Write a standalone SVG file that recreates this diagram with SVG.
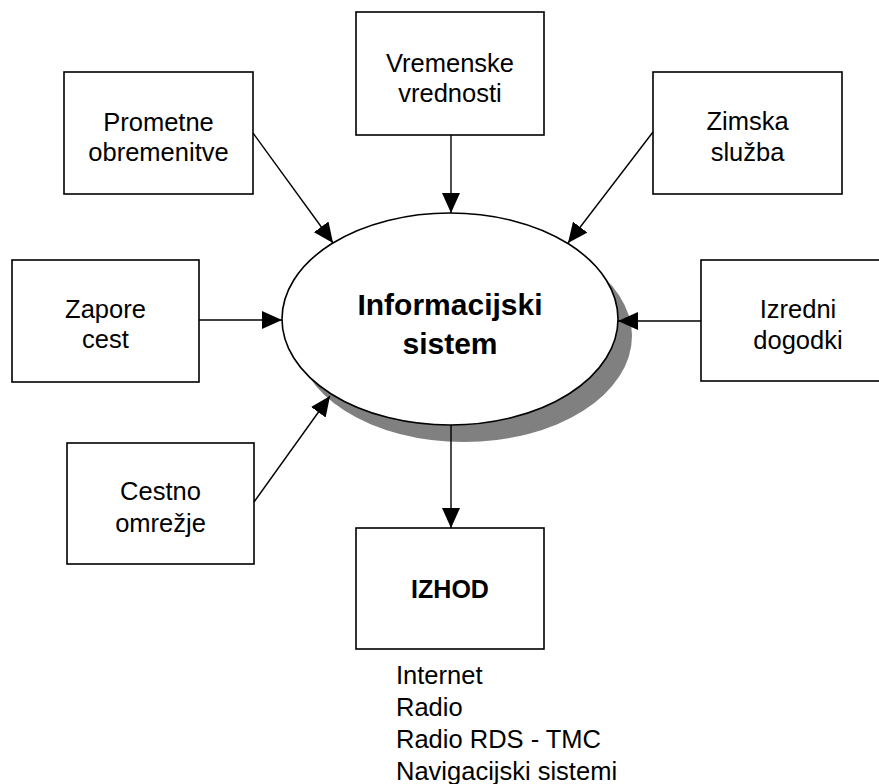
<svg xmlns="http://www.w3.org/2000/svg" width="879" height="784" viewBox="0 0 879 784">
  <style>
    .box { fill: #ffffff; stroke: #000000; stroke-width: 1.6; }
    .lbl { font-family: "Liberation Sans", Arial, sans-serif; font-size: 25.5px; fill: #000000; text-anchor: middle; }
    .bold { font-weight: bold; }
    .list { font-family: "Liberation Sans", Arial, sans-serif; font-size: 25.5px; fill: #000000; }
    .conn { stroke: #000000; stroke-width: 1.4; fill: none; marker-end: url(#arrow); }
  </style>
  <defs>
    <marker id="arrow" markerUnits="userSpaceOnUse" markerWidth="20" markerHeight="18" refX="20" refY="9" orient="auto">
      <path d="M0,0 L20,9 L0,18 Z" fill="#000000"/>
    </marker>
  </defs>

  <rect width="879" height="784" fill="#ffffff"/>

  <!-- central process -->
  <g id="informacijski-sistem">
    <ellipse cx="464" cy="336" rx="168" ry="106" fill="#808080"/>
    <ellipse cx="450" cy="319" rx="168" ry="106" fill="#ffffff" stroke="#000000" stroke-width="1.6"/>
    <text class="lbl bold" x="450" y="315" style="font-size:30px">Informacijski</text>
    <text class="lbl bold" x="450" y="354" style="font-size:30px">sistem</text>
  </g>

  <!-- input sources -->
  <g id="prometne-obremenitve">
    <rect class="box" x="64" y="72" width="189" height="122"/>
    <text class="lbl" x="158.5" y="131">Prometne</text>
    <text class="lbl" x="158.5" y="161">obremenitve</text>
  </g>

  <g id="vremenske-vrednosti">
    <rect class="box" x="356" y="12" width="188" height="123"/>
    <text class="lbl" x="450" y="72">Vremenske</text>
    <text class="lbl" x="450" y="102">vrednosti</text>
  </g>

  <g id="zimska-sluzba">
    <rect class="box" x="653" y="72" width="189" height="122"/>
    <text class="lbl" x="747.5" y="130">Zimska</text>
    <text class="lbl" x="747.5" y="161">služba</text>
  </g>

  <g id="zapore-cest">
    <rect class="box" x="12" y="260" width="187" height="122"/>
    <text class="lbl" x="105.5" y="318">Zapore</text>
    <text class="lbl" x="105.5" y="348">cest</text>
  </g>

  <g id="izredni-dogodki">
    <rect class="box" x="701" y="260" width="188" height="121"/>
    <text class="lbl" x="798" y="318">Izredni</text>
    <text class="lbl" x="798" y="349">dogodki</text>
  </g>

  <g id="cestno-omrezje">
    <rect class="box" x="67" y="443" width="187" height="121"/>
    <text class="lbl" x="160.5" y="500">Cestno</text>
    <text class="lbl" x="160.5" y="532">omrežje</text>
  </g>

  <!-- output -->
  <g id="izhod">
    <rect class="box" x="356" y="528" width="188" height="121"/>
    <text class="lbl bold" x="450" y="598" style="font-size:25px">IZHOD</text>
    <text class="list" x="396" y="684">Internet</text>
    <text class="list" x="396" y="716">Radio</text>
    <text class="list" x="396" y="748">Radio RDS - TMC</text>
    <text class="list" x="396" y="780">Navigacijski sistemi</text>
  </g>

  <!-- connectors -->
  <g id="connectors">
    <line class="conn" x1="253" y1="133" x2="333" y2="243"/>
    <line class="conn" x1="451" y1="135" x2="451" y2="213"/>
    <line class="conn" x1="653" y1="132" x2="568" y2="243"/>
    <line class="conn" x1="199" y1="320" x2="282" y2="320"/>
    <line class="conn" x1="701" y1="321" x2="618" y2="321"/>
    <line class="conn" x1="254" y1="502" x2="330" y2="396"/>
    <line class="conn" x1="451" y1="425" x2="451" y2="528"/>
  </g>
</svg>
